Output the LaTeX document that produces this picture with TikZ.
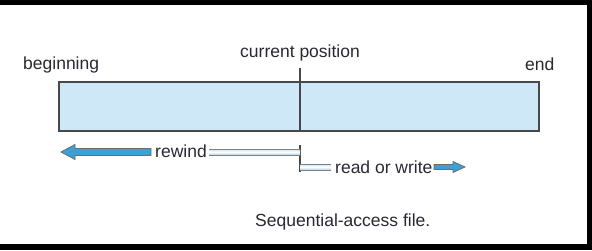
\documentclass[tikz,border=0pt]{standalone}
\usepackage{fontspec}
\setmainfont{Liberation Sans}
\usetikzlibrary{calc}

\definecolor{filefill}{RGB}{206,232,248}
\definecolor{edgegray}{RGB}{72,72,72}
\definecolor{arrowblue}{RGB}{58,160,214}
\definecolor{paleblue}{RGB}{170,208,236}
\definecolor{textgray}{RGB}{40,40,50}

\tikzset{
  lbl/.style={inner sep=0pt, anchor=base west, text=textgray,
    font=\fontsize{17.5}{20}\selectfont},
  filebox/.style={draw=edgegray, line width=1.6pt, fill=filefill,
    inner sep=0pt},
  marker/.style={draw=edgegray, line width=1.3pt},
  bluearrow/.style={fill=arrowblue, draw=edgegray!80, line width=0.8pt,
    line join=miter},
  paleshaft/.style={top color=paleblue!60!white, bottom color=paleblue,
    middle color=white},
  shaftedge/.style={draw=edgegray!70, line width=1pt},
  frameband/.style={fill=black, draw=none}
}

\begin{document}
\begin{tikzpicture}[x=1pt, y=-1pt]
  \useasboundingbox (0,0) rectangle (592,250);
  % dark frame bands
  \fill[frameband] (0,0) rectangle (592,5);
  \fill[frameband] (0,244) rectangle (592,250);
  \fill[frameband] (587,0) rectangle (592,250);

  % the file
  \node[filebox, minimum width=480pt, minimum height=49pt] (file) at (299,106.5) {};

  % labels
  \node[lbl] (begin) at (23,69) {beginning};
  \node[lbl] (curpos) at (240,57) {current position};
  \node[lbl] (endlbl) at (525,70) {end};
  \node[lbl] (caption) at (255,226) {Sequential-access file.};

  % current position marker
  \coordinate (mtop) at (300,68);
  \draw[marker] (mtop) -- (mtop |- file.south);
  \coordinate (ttop) at (300,145);
  \coordinate (tbot) at (300,171.5);
  \draw[marker] (ttop) -- (tbot);

  % rewind
  \node[lbl] (rewind) at (155,157) {rewind};
  \coordinate (rwA) at (209,152);
  \coordinate (rwB) at (300,152);
  \shade[paleshaft] ($(rwA)+(0,-3)$) rectangle ($(rwB)+(0,3)$);
  \draw[shaftedge] ($(rwA)+(0,-3)$) -- ($(rwB)+(0,-3)$)
                   ($(rwA)+(0,3)$) -- ($(rwB)+(0,3)$);
  \draw[bluearrow] (151,148.5) -- (75,148.5) -- (75,144.5) -- (61,152)
    -- (75,159.5) -- (75,155.5) -- (151,155.5) -- cycle;

  % read or write
  \node[lbl] (rw) at (335,173) {read or write};
  \coordinate (wrA) at (300,167);
  \coordinate (wrB) at (331,167);
  \shade[paleshaft] ($(wrA)+(0,-3)$) rectangle ($(wrB)+(0,3)$);
  \draw[shaftedge] ($(wrA)+(0,-3)$) -- ($(wrB)+(0,-3)$)
                   ($(wrA)+(0,3)$) -- ($(wrB)+(0,3)$);
  \draw[bluearrow] (434,164.5) -- (453,164.5) -- (453,161.5) -- (465,167)
    -- (453,172.5) -- (453,169.5) -- (434,169.5) -- cycle;
\end{tikzpicture}
\end{document}
